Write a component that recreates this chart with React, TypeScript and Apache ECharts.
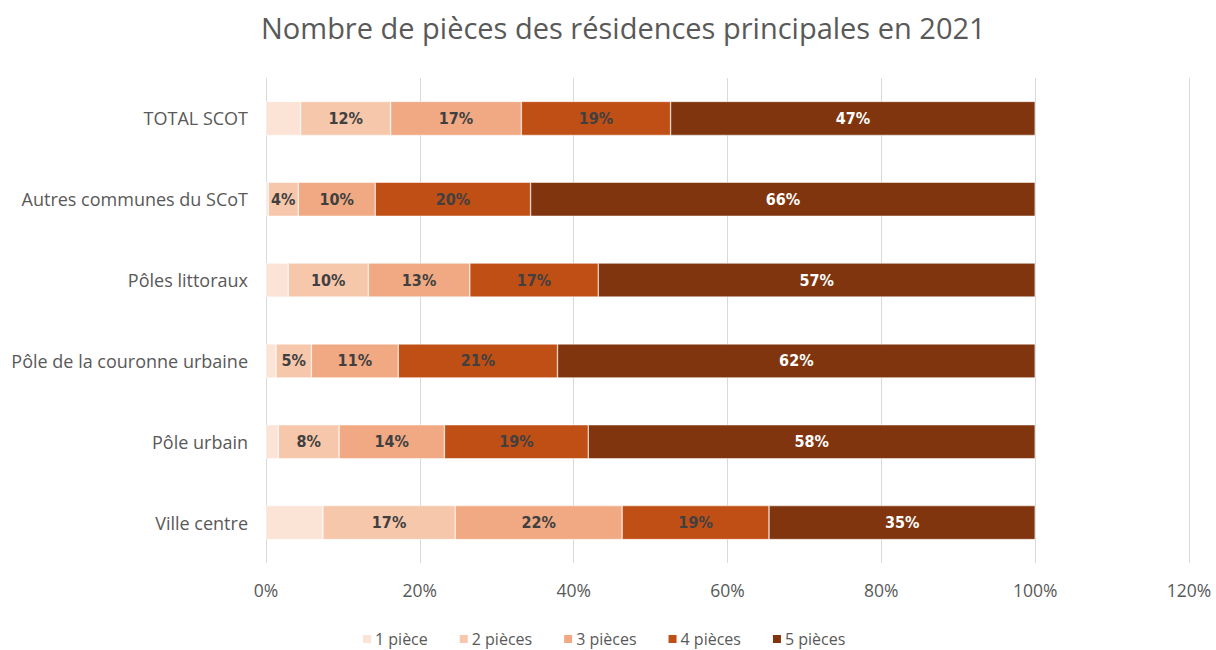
import React, { useEffect, useRef } from "react";
import * as echarts from "echarts";

const categories = [
  "Ville centre",
  "Pôle urbain",
  "Pôle de la couronne urbaine",
  "Pôles littoraux",
  "Autres communes du SCoT",
  "TOTAL SCOT",
];

const seriesNames = ["1 pièce", "2 pièces", "3 pièces", "4 pièces", "5 pièces"];

const piece1 = [7.4, 1.6, 1.3, 2.9, 0.3, 4.5];
const piece2 = [17.2, 7.9, 4.6, 10.4, 3.9, 11.7];
const piece3 = [21.7, 13.7, 11.3, 13.2, 10.0, 17.0];
const piece4 = [19.1, 18.7, 20.7, 16.7, 20.2, 19.4];
const piece5 = [34.6, 58.1, 62.1, 56.8, 65.6, 47.4];

const colors = ["#FBE3D6", "#F7C7AC", "#F1A983", "#C04F15", "#80350E"];
const labelColors = ["#404040", "#404040", "#404040", "#404040", "#FFFFFF"];
const showLabels = [false, true, true, true, true];

const xTicks = [0, 20, 40, 60, 80, 100, 120];

const labelFont = "'Liberation Sans Narrow', 'DejaVu Sans Condensed', 'Roboto Condensed', 'Roboto', sans-serif";
const textFont = "'Open Sans', 'Noto Sans', sans-serif";

export default function App() {
  const ref = useRef<HTMLDivElement>(null);
  useEffect(() => {
    if (!ref.current) return;
    const chart = echarts.init(ref.current, null, { renderer: "svg" });
    const allData = [piece1, piece2, piece3, piece4, piece5];
    chart.setOption({
      animation: false,
      backgroundColor: "#FFFFFF",
      title: {
        text: "Nombre de pièces des résidences principales en 2021",
        left: 256,
        top: 8,
        textStyle: {
          fontFamily: textFont,
          fontSize: 29,
          fontWeight: "normal",
          color: "#595959",
        },
      },
      legend: {
        top: 626,
        left: 356,
        itemWidth: 10,
        itemHeight: 10,
        itemGap: 30,
        icon: "rect",
        data: seriesNames,
        textStyle: {
          fontFamily: textFont,
          fontSize: 16,
          color: "#595959",
          padding: [0, 0, 0, -2],
        },
      },
      grid: {
        left: 266,
        right: 27,
        top: 78,
        bottom: 87,
        containLabel: false,
      },
      xAxis: {
        type: "value",
        min: 0,
        max: 120,
        interval: 20,
        axisLine: { show: false },
        axisTick: { show: false },
        splitLine: { show: true, lineStyle: { color: "#D9D9D9", width: 1 } },
        axisLabel: {
          formatter: (v: number) => (xTicks.includes(v) ? v + "%" : ""),
          fontFamily: textFont,
          fontSize: 17.5,
          color: "#595959",
          margin: 18,
        },
      },
      yAxis: {
        type: "category",
        data: categories,
        axisLine: { show: false },
        axisTick: { show: false },
        axisLabel: {
          fontFamily: textFont,
          fontSize: 18,
          color: "#595959",
          margin: 18,
        },
      },
      series: seriesNames.map((name, i) => ({
        name,
        type: "bar",
        stack: "total",
        barWidth: 34,
        data: allData[i],
        itemStyle: { color: colors[i], borderColor: "#FFFFFF", borderWidth: 0.5 },
        label: {
          show: showLabels[i],
          position: "inside",
          formatter: (p: any) => Math.round(p.value) + "%",
          fontFamily: labelFont,
          fontSize: 16,
          fontWeight: "bold",
          color: labelColors[i],
        },
      })),
    });
    return () => chart.dispose();
  }, []);
  return (
    <div
      ref={ref}
      style={{ position: "fixed", left: 0, top: 0, width: 1216, height: 650 }}
    />
  );
}
